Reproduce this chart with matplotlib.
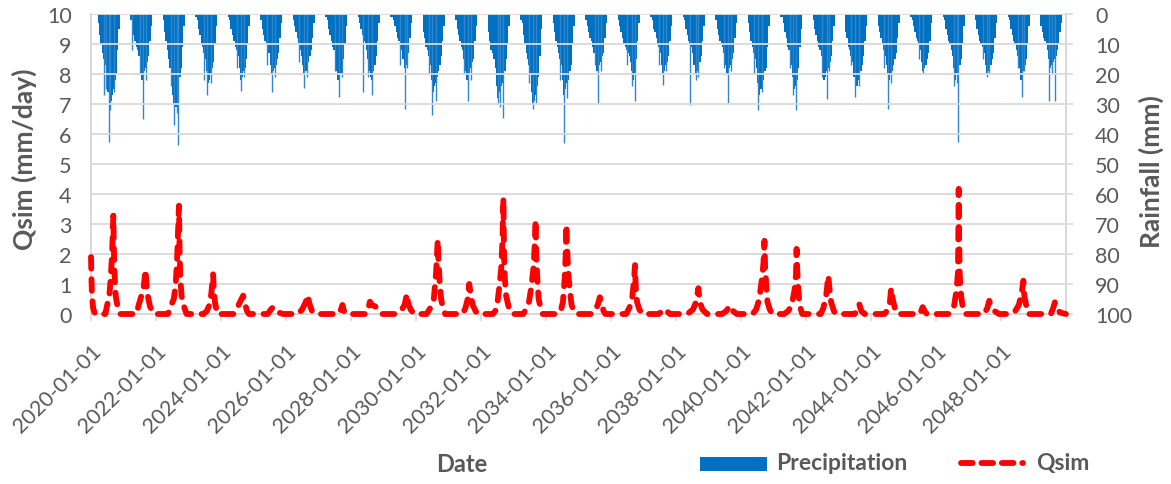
import numpy as np
import pandas as pd
import matplotlib
matplotlib.use('Agg')
import matplotlib.pyplot as plt
import matplotlib.dates as mdates
import matplotlib.transforms as mtransforms
from matplotlib.lines import Line2D
from matplotlib.patches import Rectangle

# ---------------- data ----------------
years = list(range(2020, 2050))
# start day of each half-month rainfall period inside the wet season
rain_period_starts = ['03-16', '04-01', '04-16', '05-01', '05-16', '06-01', '06-16', '07-01',
                      '07-16', '08-01', '08-16', '09-01', '09-16', '10-01', '10-16', '11-01']
# rainfall (mm) per period, one row per year
rain_mm = [
    [3, 7, 10, 13, 15, 17, 20, 26, 31, 29, 27, 25, 22, 20, 12, 5],     # 2020
    [2, 5, 7, 9, 11, 12, 14, 18, 22, 21, 19, 18, 16, 14, 9, 4],        # 2021
    [2, 6, 9, 12, 15, 18, 21, 27, 30, 31, 27, 24, 21, 18, 11, 4],      # 2022
    [1, 2, 5, 7, 10, 11, 13, 15, 19, 23, 22, 20, 18, 16, 10, 4],       # 2023
    [1, 2, 5, 7, 9, 11, 12, 14, 18, 22, 21, 19, 18, 15, 10, 4],        # 2024
    [2, 5, 7, 9, 10, 11, 13, 17, 20, 19, 18, 17, 15, 13, 8, 3],        # 2025
    [2, 4, 6, 8, 10, 12, 14, 17, 20, 19, 17, 16, 14, 12, 8, 3],        # 2026
    [1, 2, 5, 7, 9, 11, 12, 15, 19, 22, 21, 20, 18, 15, 10, 4],        # 2027
    [1, 3, 5, 7, 9, 10, 12, 15, 19, 21, 22, 19, 17, 14, 9, 3],         # 2028
    [1, 1, 2, 4, 6, 8, 9, 10, 12, 15, 18, 17, 16, 13, 8, 3],           # 2029
    [6, 8, 11, 12, 14, 17, 22, 26, 24, 23, 21, 19, 17, 14, 9, 4],      # 2030
    [2, 5, 7, 9, 11, 12, 15, 19, 22, 21, 20, 18, 16, 15, 9, 4],        # 2031
    [6, 9, 12, 13, 15, 18, 24, 28, 26, 24, 23, 21, 19, 15, 10, 4],     # 2032
    [2, 3, 7, 10, 13, 15, 17, 20, 26, 30, 29, 27, 24, 21, 14, 5],      # 2033
    [3, 6, 9, 11, 13, 15, 17, 22, 27, 25, 23, 22, 19, 17, 10, 4],      # 2034
    [2, 4, 6, 8, 9, 11, 13, 16, 19, 18, 17, 16, 14, 13, 8, 3],         # 2035
    [2, 4, 6, 8, 10, 11, 12, 13, 14, 16, 19, 22, 20, 15, 9, 3],        # 2036
    [1, 2, 5, 6, 8, 10, 11, 13, 17, 20, 19, 17, 16, 14, 9, 4],         # 2037
    [1, 2, 5, 7, 9, 10, 11, 13, 17, 20, 19, 18, 16, 14, 9, 4],         # 2038
    [2, 5, 7, 9, 10, 11, 13, 17, 20, 19, 18, 17, 15, 13, 8, 3],        # 2039
    [3, 6, 9, 11, 13, 15, 18, 23, 27, 25, 23, 22, 19, 18, 11, 4],      # 2040
    [1, 1, 3, 6, 8, 11, 12, 14, 17, 21, 25, 24, 22, 18, 11, 5],        # 2041
    [2, 5, 7, 9, 11, 12, 14, 18, 22, 21, 19, 18, 16, 14, 9, 4],        # 2042
    [6, 8, 11, 12, 14, 16, 21, 25, 24, 22, 20, 19, 17, 14, 9, 4],      # 2043
    [4, 6, 8, 10, 12, 14, 17, 20, 22, 20, 19, 17, 15, 13, 8, 3],       # 2044
    [1, 2, 4, 6, 8, 9, 10, 12, 16, 19, 18, 17, 15, 13, 9, 3],          # 2045
    [1, 2, 5, 7, 9, 10, 12, 14, 18, 22, 20, 19, 17, 15, 10, 4],        # 2046
    [2, 5, 7, 9, 10, 11, 13, 17, 20, 19, 18, 17, 15, 13, 8, 3],        # 2047
    [1, 2, 5, 7, 9, 10, 12, 14, 18, 22, 20, 19, 17, 15, 10, 4],        # 2048
    [4, 6, 8, 9, 10, 12, 15, 18, 17, 16, 15, 14, 12, 10, 6, 3],        # 2049
]
# single-day rainfall peaks (date, mm)
rain_spikes = [
    ('2020-05-26', 27), ('2020-06-20', 25), ('2020-07-20', 42.7), ('2020-08-05', 32), ('2020-09-20', 26),
    ('2021-04-10', 12), ('2021-07-01', 20), ('2021-08-11', 35), ('2021-09-15', 22),
    ('2022-06-15', 24), ('2022-07-27', 37), ('2022-08-20', 33), ('2022-09-09', 43.7),
    ('2023-06-20', 22), ('2023-07-30', 27), ('2023-09-10', 23),
    ('2024-07-01', 18), ('2024-08-15', 25.7), ('2024-09-20', 21),
    ('2025-05-30', 17), ('2025-07-23', 26), ('2025-09-01', 21),
    ('2026-06-01', 16), ('2026-07-20', 24.5), ('2026-08-25', 21),
    ('2027-07-05', 19), ('2027-08-20', 27.5), ('2027-09-20', 21),
    ('2028-05-12', 26), ('2028-07-05', 21), ('2028-08-22', 27),
    ('2029-07-10', 17), ('2029-08-30', 31.5), ('2029-09-25', 18),
    ('2030-06-01', 20), ('2030-07-02', 33.5), ('2030-08-10', 29),
    ('2031-06-20', 20), ('2031-08-08', 29), ('2031-09-10', 22),
    ('2032-07-05', 30), ('2032-08-01', 31), ('2032-09-09', 34.7),
    ('2033-06-25', 23), ('2033-08-08', 31.7), ('2033-09-05', 30),
    ('2034-06-10', 22), ('2034-07-23', 43), ('2034-08-20', 28),
    ('2035-07-01', 17), ('2035-08-12', 29.5), ('2035-09-15', 19),
    ('2036-07-01', 17), ('2036-08-20', 24), ('2036-09-27', 29),
    ('2037-06-20', 17), ('2037-08-12', 23.5), ('2037-09-15', 19),
    ('2038-06-05', 30.3), ('2038-08-15', 22), ('2038-09-10', 21),
    ('2039-06-20', 18), ('2039-08-04', 29.5), ('2039-09-15', 19),
    ('2040-06-01', 20), ('2040-07-13', 32), ('2040-08-20', 26),
    ('2041-07-01', 18), ('2041-08-10', 27), ('2041-09-16', 32),
    ('2042-07-05', 21), ('2042-08-22', 28.3), ('2042-09-20', 19),
    ('2043-05-20', 17), ('2043-07-02', 27.5), ('2043-08-20', 24),
    ('2044-06-01', 18), ('2044-07-06', 31.7), ('2044-08-15', 23),
    ('2045-06-25', 15), ('2045-08-05', 20),
    ('2046-07-25', 24), ('2046-08-20', 23), ('2046-09-09', 42.8),
    ('2047-06-10', 15), ('2047-07-25', 21), ('2047-08-25', 20),
    ('2048-07-10', 18), ('2048-08-20', 27.6), ('2048-09-20', 19),
    ('2049-06-28', 29), ('2049-07-25', 20), ('2049-08-29', 29),
]
# simulated discharge (mm/day) at key dates
qsim_points = [
    ('2020-01-01', 1.9), ('2020-01-06', 1.2), ('2020-01-12', 0.6), ('2020-01-25', 0.2), ('2020-02-15', 0),
    ('2020-06-10', 0), ('2020-07-01', 0.3), ('2020-07-25', 0.6), ('2020-08-12', 1.3), ('2020-08-25', 2.0),
    ('2020-09-08', 3.28), ('2020-09-14', 2.2), ('2020-09-22', 1.3), ('2020-10-05', 0.6), ('2020-10-25', 0.25), ('2020-11-25', 0),
    ('2021-05-25', 0), ('2021-06-20', 0.3), ('2021-07-20', 0.6), ('2021-08-15', 0.9), ('2021-09-05', 1.48),
    ('2021-09-15', 1.0), ('2021-10-01', 0.6), ('2021-10-25', 0.25), ('2021-12-10', 0),
    ('2022-05-15', 0), ('2022-06-20', 0.3), ('2022-07-20', 0.5), ('2022-08-10', 1.0), ('2022-08-25', 1.8),
    ('2022-09-16', 3.61), ('2022-09-22', 2.2), ('2022-10-01', 1.2), ('2022-10-15', 0.6), ('2022-11-05', 0.3), ('2022-12-10', 0),
    ('2023-06-20', 0), ('2023-07-25', 0.1), ('2023-08-25', 0.3), ('2023-09-15', 0.7), ('2023-10-04', 1.33),
    ('2023-10-12', 0.8), ('2023-10-25', 0.4), ('2023-11-20', 0),
    ('2024-05-20', 0), ('2024-07-01', 0.2), ('2024-08-10', 0.45), ('2024-09-06', 0.61), ('2024-09-25', 0.35),
    ('2024-10-20', 0.1), ('2024-11-10', 0),
    ('2025-06-10', 0), ('2025-07-15', 0.15), ('2025-08-08', 0.23), ('2025-09-05', 0.12), ('2025-10-10', 0.05), ('2025-12-01', 0),
    ('2026-05-15', 0), ('2026-07-01', 0.15), ('2026-08-10', 0.4), ('2026-09-02', 0.63), ('2026-09-20', 0.35),
    ('2026-10-20', 0.1), ('2026-11-25', 0),
    ('2027-08-15', 0), ('2027-09-10', 0.15), ('2027-09-27', 0.3), ('2027-10-15', 0.1), ('2027-11-05', 0),
    ('2028-06-20', 0), ('2028-07-15', 0.2), ('2028-08-01', 0.41), ('2028-08-25', 0.3), ('2028-10-01', 0.25),
    ('2028-11-01', 0.15), ('2028-12-10', 0),
    ('2029-05-01', 0), ('2029-07-15', 0.1), ('2029-08-25', 0.3), ('2029-09-21', 0.67), ('2029-10-05', 0.35),
    ('2029-11-01', 0.15), ('2029-12-10', 0),
    ('2030-05-01', 0), ('2030-06-10', 0.2), ('2030-07-20', 0.5), ('2030-08-15', 1.4), ('2030-09-02', 2.47),
    ('2030-09-10', 1.8), ('2030-09-25', 1.0), ('2030-10-10', 0.5), ('2030-10-30', 0.2), ('2030-11-25', 0),
    ('2031-06-10', 0), ('2031-07-10', 0.2), ('2031-08-05', 0.5), ('2031-08-22', 1.0), ('2031-09-05', 0.7),
    ('2031-09-30', 0.3), ('2031-11-01', 0.1), ('2031-11-25', 0),
    ('2032-05-15', 0), ('2032-06-10', 0.1), ('2032-07-01', 0.3), ('2032-07-25', 0.9), ('2032-08-15', 1.5),
    ('2032-08-30', 2.5), ('2032-09-09', 3.86), ('2032-09-16', 2.0), ('2032-09-25', 1.2), ('2032-10-10', 0.6),
    ('2032-11-10', 0.2), ('2032-12-20', 0),
    ('2033-04-20', 0), ('2033-05-20', 0.15), ('2033-06-20', 0.35), ('2033-07-20', 0.9), ('2033-08-15', 1.6),
    ('2033-08-28', 2.4), ('2033-09-06', 3.14), ('2033-09-13', 2.0), ('2033-09-25', 1.2), ('2033-10-10', 0.5),
    ('2033-11-05', 0.15), ('2033-11-25', 0),
    ('2034-05-10', 0), ('2034-06-15', 0.1), ('2034-07-10', 0.4), ('2034-07-30', 1.2), ('2034-08-10', 2.0),
    ('2034-08-18', 2.98), ('2034-08-26', 2.2), ('2034-09-10', 1.3), ('2034-09-25', 0.8), ('2034-10-15', 0.3),
    ('2034-11-10', 0.1), ('2034-12-10', 0),
    ('2035-05-25', 0), ('2035-07-15', 0.15), ('2035-08-10', 0.35), ('2035-08-29', 0.56), ('2035-09-20', 0.3),
    ('2035-10-10', 0.1), ('2035-10-30', 0),
    ('2036-06-20', 0), ('2036-07-25', 0.2), ('2036-08-25', 0.5), ('2036-09-15', 1.1), ('2036-09-27', 1.63),
    ('2036-10-05', 0.9), ('2036-10-20', 0.4), ('2036-11-15', 0.15), ('2036-12-20', 0),
    ('2037-06-20', 0), ('2037-08-01', 0.1), ('2037-08-29', 0.17), ('2037-09-25', 0.08), ('2037-10-25', 0),
    ('2038-05-10', 0), ('2038-07-10', 0.15), ('2038-08-15', 0.4), ('2038-09-09', 0.86), ('2038-09-25', 0.4),
    ('2038-10-25', 0.15), ('2038-12-15', 0),
    ('2039-06-01', 0), ('2039-07-20', 0.1), ('2039-08-29', 0.28), ('2039-09-25', 0.12), ('2039-11-15', 0),
    ('2040-05-10', 0), ('2040-06-20', 0.15), ('2040-07-25', 0.5), ('2040-08-25', 1.2), ('2040-09-10', 1.7),
    ('2040-09-21', 2.44), ('2040-09-28', 1.6), ('2040-10-10', 1.0), ('2040-10-25', 0.4), ('2040-11-20', 0.15), ('2040-12-20', 0),
    ('2041-05-01', 0), ('2041-06-15', 0.1), ('2041-07-25', 0.3), ('2041-08-25', 0.8), ('2041-09-10', 1.3),
    ('2041-09-17', 2.17), ('2041-09-24', 1.5), ('2041-10-05', 0.9), ('2041-10-20', 0.3), ('2041-11-20', 0),
    ('2042-06-15', 0), ('2042-07-15', 0.2), ('2042-08-15', 0.6), ('2042-09-09', 1.28), ('2042-09-20', 0.9),
    ('2042-10-10', 0.4), ('2042-11-10', 0.1), ('2042-12-05', 0),
    ('2043-07-01', 0), ('2043-08-05', 0.15), ('2043-08-22', 0.33), ('2043-09-15', 0.1), ('2043-10-20', 0),
    ('2044-06-01', 0), ('2044-07-10', 0.15), ('2044-08-01', 0.4), ('2044-08-15', 0.86), ('2044-09-01', 0.5),
    ('2044-09-25', 0.2), ('2044-10-25', 0),
    ('2045-07-05', 0), ('2045-07-25', 0.15), ('2045-08-04', 0.23), ('2045-08-25', 0.1), ('2045-09-20', 0),
    ('2046-05-20', 0), ('2046-07-01', 0.1), ('2046-07-25', 0.3), ('2046-08-20', 0.8), ('2046-09-05', 1.4),
    ('2046-09-13', 4.17), ('2046-09-18', 2.5), ('2046-09-25', 1.3), ('2046-10-10', 0.6), ('2046-10-30', 0.2), ('2046-11-25', 0),
    ('2047-06-25', 0), ('2047-08-01', 0.2), ('2047-08-22', 0.44), ('2047-09-15', 0.25), ('2047-10-20', 0.1), ('2047-12-10', 0),
    ('2048-04-20', 0), ('2048-06-10', 0.1), ('2048-07-20', 0.3), ('2048-08-20', 0.7), ('2048-09-09', 1.11),
    ('2048-09-20', 0.6), ('2048-10-10', 0.3), ('2048-11-01', 0),
    ('2049-07-15', 0), ('2049-08-10', 0.2), ('2049-08-29', 0.39), ('2049-09-20', 0.2), ('2049-10-25', 0.05), ('2049-12-31', 0),
]
x_tick_years = list(range(2020, 2050, 2))
x_tick_labels = [f'{y}-01-01' for y in x_tick_years]
q_ticks = list(range(0, 11))
rain_ticks = list(range(0, 101, 10))

# ---------------- style ----------------
W, H = 1171, 485
TEXT = '#595959'
GRID = '#D9D9D9'
BLUE = '#0070C0'
RED = '#FF0000'
FONT = 'Lato'
plt.rcParams['font.family'] = [FONT, 'DejaVu Sans']

fig = plt.figure(figsize=(W / 100, H / 100), dpi=100)
ax = fig.add_axes([91 / W, 1 - 315 / H, (1066 - 91) / W, 300 / H])
ax2 = ax.twinx()

# rainfall bars (hanging from the top, inverted right axis)
bar_x, bar_h = [], []
for yr, row in zip(years, rain_mm):
    for start, v in zip(rain_period_starts, row):
        bar_x.append(mdates.date2num(pd.Timestamp(f'{yr}-{start}')))
        bar_h.append(v)
ax2.bar(bar_x, bar_h, width=18, align='edge', color=BLUE, linewidth=0,
        antialiased=False, zorder=2)
sp_x = [mdates.date2num(pd.Timestamp(d)) for d, _ in rain_spikes]
sp_v = [v for _, v in rain_spikes]
ax2.vlines(sp_x, 0, sp_v, color='#2E86D0', linewidth=1.0, zorder=2)
ax2.set_ylim(100, 0)

# Qsim line
qx = [mdates.date2num(pd.Timestamp(d)) for d, _ in qsim_points]
qv = [v for _, v in qsim_points]
ax.plot(qx, qv, color=RED, linewidth=4.2, dashes=(2.0, 1.8), dash_capstyle='round',
        solid_capstyle='round', clip_on=False, zorder=3)

ax.set_ylim(0, 10)
ax.set_xlim(mdates.date2num(pd.Timestamp('2020-01-01')), mdates.date2num(pd.Timestamp('2050-01-01')))
ax.set_yticks(q_ticks)
ax2.set_yticks(rain_ticks)
ax.set_xticks([mdates.date2num(pd.Timestamp(f'{y}-01-01')) for y in x_tick_years])
ax.set_xticklabels(x_tick_labels, rotation=45, ha='right', va='top', rotation_mode='anchor')
shift = mtransforms.ScaledTranslation(5 / 100, 0, fig.dpi_scale_trans)
for lbl in ax.get_xticklabels():
    lbl.set_transform(lbl.get_transform() + shift)

ax.grid(axis='y', color=GRID, linewidth=1.3)
ax.set_axisbelow(True)
ax.set_zorder(ax2.get_zorder() + 1)
ax.patch.set_visible(False)

for a in (ax, ax2):
    a.spines['top'].set_visible(False)
    for s in ('left', 'right', 'bottom'):
        a.spines[s].set_color(GRID)
        a.spines[s].set_linewidth(1.3)
ax.tick_params(axis='y', length=0, pad=14, labelsize=15.5, labelcolor=TEXT)
ax.tick_params(axis='x', length=5, width=1.2, color=GRID, pad=14, labelsize=15.5, labelcolor=TEXT)
ax2.tick_params(axis='y', length=5, width=1.2, color=GRID, pad=16, labelsize=15.5, labelcolor=TEXT)

# axis titles
fig.text(24 / W, 1 - 159 / H, 'Qsim (mm/day)', rotation=90, ha='center', va='center',
         fontsize=19, fontweight='bold', color=TEXT)
fig.text(1151 / W, 1 - 172 / H, 'Rainfall (mm)', rotation=90, ha='center', va='center',
         fontsize=19, fontweight='bold', color=TEXT)
fig.text(462 / W, 1 - 465 / H, 'Date', ha='center', va='center',
         fontsize=17, fontweight='bold', color=TEXT)

# legend
fig.patches.append(Rectangle((700 / W, 1 - 472 / H), 67 / W, 14 / H, transform=fig.transFigure,
                             facecolor=BLUE, edgecolor='none'))
fig.text(776 / W, 1 - 464 / H, 'Precipitation', ha='left', va='center',
         fontsize=16.5, fontweight='bold', color=TEXT)
fig.lines.append(Line2D([961 / W, 1023 / W], [1 - 464 / H, 1 - 464 / H], transform=fig.transFigure,
                        color=RED, linewidth=4.2, dashes=(2.0, 1.5), dash_capstyle='round'))
fig.text(1036 / W, 1 - 464 / H, 'Qsim', ha='left', va='center',
         fontsize=16.5, fontweight='bold', color=TEXT)

fig.savefig('out.png', dpi=100)
